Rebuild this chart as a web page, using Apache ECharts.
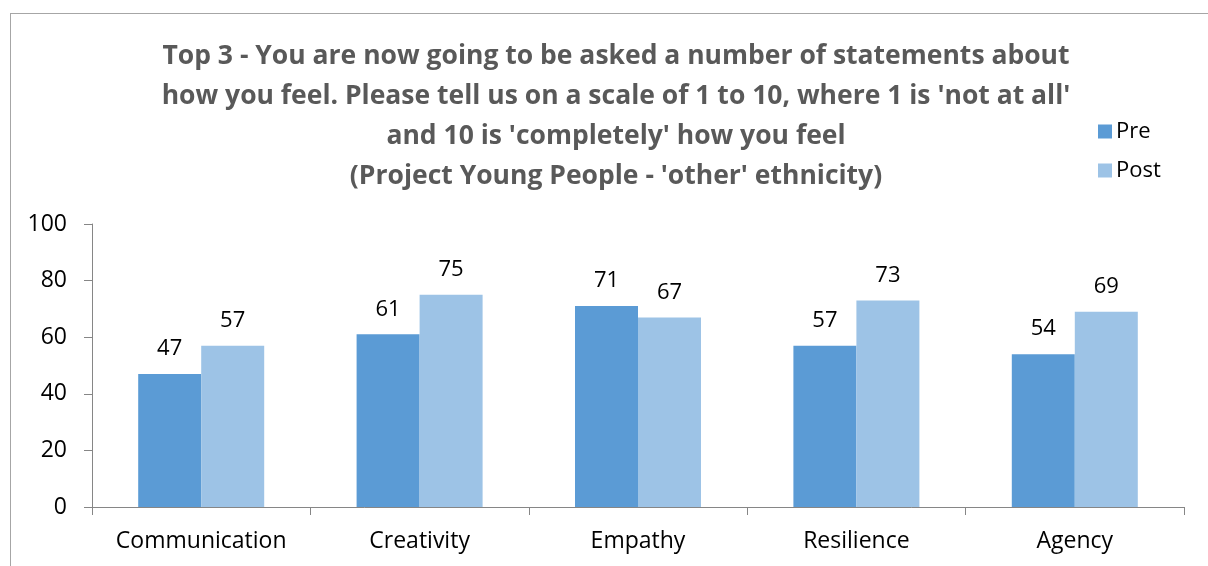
<!DOCTYPE html>
<html>
<head>
<meta charset="utf-8">
<script src="https://cdn.jsdelivr.net/npm/echarts@6/dist/echarts.min.js"></script>
<style>
  html, body { margin: 0; padding: 0; background: #fff; }
  #frame { position: absolute; left: 10px; top: 13px; width: 1300px; height: 700px; border: 1px solid #a6a6a6; box-sizing: border-box; }
  #chart { position: absolute; left: 0; top: 0; width: 1208px; height: 566px; }
</style>
</head>
<body>
<div id="frame"></div>
<div id="chart"></div>
<script>
const categories = ['Communication', 'Creativity', 'Empathy', 'Resilience', 'Agency'];
const preValues = [47, 61, 71, 57, 54];
const postValues = [57, 75, 67, 73, 69];
const yTicks = { min: 0, max: 100, interval: 20 };
const titleLines = [
  'Top 3 - You are now going to be asked a number of statements about',
  "how you feel. Please tell us on a scale of 1 to 10, where 1 is 'not at all'",
  "and 10 is 'completely' how you feel",
  "(Project Young People - 'other' ethnicity)"
];

const chart = echarts.init(document.getElementById('chart'), null, { renderer: 'canvas' });
const font = '"Open Sans", sans-serif';
const labelStyle = { show: true, position: 'top', distance: 14, color: '#000', fontSize: 22, fontFamily: font };

chart.setOption({
  animation: false,
  backgroundColor: 'transparent',
  title: {
    text: titleLines.join('\n'),
    left: 611,
    top: 31,
    textAlign: 'center',
    textStyle: { color: '#595959', fontSize: 26.5, fontWeight: 'bold', fontFamily: font, lineHeight: 40 }
  },
  legend: {
    orient: 'vertical',
    left: 1093,
    top: 113,
    itemWidth: 14,
    itemHeight: 14,
    itemGap: 12,
    icon: 'rect',
    textStyle: { color: '#000', fontSize: 22, fontFamily: font, lineHeight: 27, padding: [0, 0, 0, -1] },
    data: ['Pre', 'Post']
  },
  grid: { left: 92, right: 24, top: 224, bottom: 59, containLabel: false },
  xAxis: {
    type: 'category',
    data: categories,
    axisLine: { lineStyle: { color: '#868686', width: 1 } },
    axisTick: { show: true, length: 8, alignWithLabel: false, lineStyle: { color: '#868686' } },
    axisLabel: { color: '#000', fontSize: 23, fontFamily: font, margin: 23, interval: 0, hideOverlap: false }
  },
  yAxis: {
    type: 'value',
    min: yTicks.min,
    max: yTicks.max,
    interval: yTicks.interval,
    axisLine: { show: true, lineStyle: { color: '#868686', width: 1 } },
    axisTick: { show: true, length: 8, lineStyle: { color: '#868686' } },
    splitLine: { show: false },
    axisLabel: { color: '#000', fontSize: 23, fontFamily: font, margin: 25 }
  },
  series: [
    {
      name: 'Pre', type: 'bar', data: preValues,
      barWidth: 63, barGap: '0%',
      itemStyle: { color: '#5B9BD5' },
      label: labelStyle
    },
    {
      name: 'Post', type: 'bar', data: postValues,
      barWidth: 63, barGap: '0%',
      itemStyle: { color: '#9DC3E6' },
      label: labelStyle
    }
  ]
});
</script>
</body>
</html>
